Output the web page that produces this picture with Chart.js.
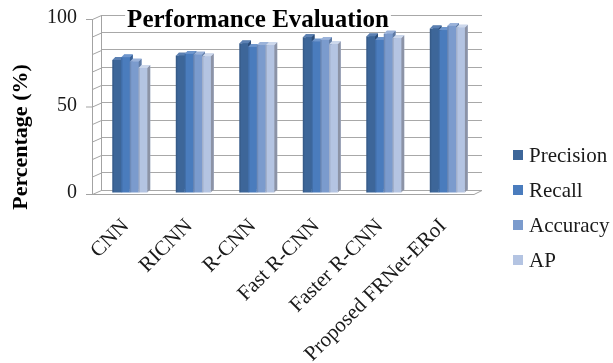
<!DOCTYPE html>
<html>
<head>
<meta charset="utf-8">
<title>Performance Evaluation</title>
<script src="https://cdn.jsdelivr.net/npm/chart.js@4.4.1/dist/chart.umd.min.js"></script>
<style>
  html, body { margin: 0; padding: 0; background: #fff; overflow: hidden; }
  #wrap { position: relative; width: 613px; height: 363px; }
</style>
</head>
<body>
<div id="wrap"><canvas id="chart" width="613" height="363"></canvas></div>
<script>
// Detection methods compared
const categories = ['CNN', 'RICNN', 'R-CNN', 'Fast R-CNN', 'Faster R-CNN', 'Proposed FRNet-ERoI'];

// Scores per method (%)
const precision = [76, 78.5, 85.5, 89, 89.5, 94];
const recall    = [77.5, 79.5, 83.5, 86.5, 87.5, 93];
const accuracy  = [75, 79, 84.5, 87.5, 91, 95.5];
const ap        = [71.5, 78, 84.5, 85, 88.5, 94.5];

const seriesNames = ['Precision', 'Recall', 'Accuracy', 'AP'];
const yTickLabels = [0, 50, 100];
const yGridValues = [0, 10, 20, 30, 40, 50, 60, 70, 80, 90, 100];

const chartTitle = 'Performance Evaluation';
const yAxisTitle = 'Percentage (%)';

// front, top and side shades of each series
const palette = [
  { front: '#3d6699', top: '#5b80b2', side: '#2c4c76' },
  { front: '#4a7cbd', top: '#6e96cd', side: '#395f93' },
  { front: '#7b9bcd', top: '#9bb3da', side: '#5f7aa3' },
  { front: '#b4c4e2', top: '#cdd8ec', side: '#8c93a6' }
];

const SERIF = "'Liberation Serif', 'Times New Roman', serif";
const DEPTH = 3;          // bar depth in px
const WALL_DX = 9;        // left wall / floor depth
const WALL_DY = 4;

// Gives each bar a front face, a top cap and a right side.
// Series are painted left to right so each bar hides the side of its neighbour.
const bars3d = {
  id: 'bars3d',
  afterDatasetsDraw(chart) {
    const ctx = chart.ctx;
    const d = DEPTH;
    ctx.save();
    chart.data.datasets.forEach((ds, i) => {
      const shades = palette[i];
      chart.getDatasetMeta(i).data.forEach(bar => {
        const p = bar.getProps(['x', 'y', 'base', 'width'], true);
        const x1 = p.x - p.width / 2, x2 = p.x + p.width / 2;
        const top = p.y, base = p.base;
        // side
        ctx.fillStyle = shades.side;
        ctx.beginPath();
        ctx.moveTo(x2 - d, top + d);
        ctx.lineTo(x2, top);
        ctx.lineTo(x2, base);
        ctx.lineTo(x2 - d, base + d);
        ctx.closePath();
        ctx.fill();
        // top cap
        ctx.fillStyle = shades.top;
        ctx.beginPath();
        ctx.moveTo(x1 - d, top + d);
        ctx.lineTo(x1, top);
        ctx.lineTo(x2, top);
        ctx.lineTo(x2 - d, top + d);
        ctx.closePath();
        ctx.fill();
        // front
        ctx.fillStyle = shades.front;
        ctx.fillRect(x1 - d, top + d, p.width, base - top);
        // a darker edge down the left of the front face
        ctx.fillStyle = 'rgba(0,0,0,0.10)';
        ctx.fillRect(x1 - d, top + d, 1.5, base - top);
      });
    });
    ctx.restore();
  }
};

// Left wall edge, wall grid connectors and floor
const walls = {
  id: 'walls',
  beforeDatasetsDraw(chart) {
    const ctx = chart.ctx;
    const a = chart.chartArea;
    const ys = chart.scales.y;
    const axisX = a.left - WALL_DX;
    ctx.save();
    ctx.strokeStyle = '#a3a3a3';
    ctx.lineWidth = 1;
    ctx.beginPath();
    // back wall left edge
    ctx.moveTo(a.left + 0.5, a.top);
    ctx.lineTo(a.left + 0.5, a.bottom);
    // left wall front edge (axis line)
    ctx.moveTo(axisX + 0.5, a.top + WALL_DY);
    ctx.lineTo(axisX + 0.5, a.bottom + WALL_DY);
    // left wall grid connectors
    ys.ticks.forEach(t => {
      const y = ys.getPixelForValue(t.value);
      ctx.moveTo(axisX + 0.5, y + WALL_DY + 0.5);
      ctx.lineTo(a.left + 0.5, y + 0.5);
    });
    // floor
    ctx.moveTo(axisX, a.bottom + WALL_DY + 0.5);
    ctx.lineTo(a.right - WALL_DX + 1, a.bottom + WALL_DY + 0.5);
    ctx.lineTo(a.right, a.bottom + 0.5);
    // major tick marks
    yTickLabels.forEach(v => {
      const y = ys.getPixelForValue(v) + WALL_DY + 0.5;
      ctx.moveTo(axisX - 6, y);
      ctx.lineTo(axisX + 0.5, y);
    });
    ctx.stroke();
    ctx.restore();
  }
};

// Chart title, y-axis title and the legend at the right
const captions = {
  id: 'captions',
  afterDraw(chart) {
    const ctx = chart.ctx;
    ctx.save();
    // title on a white band
    ctx.font = 'bold 25px ' + SERIF;
    ctx.textAlign = 'center';
    ctx.textBaseline = 'alphabetic';
    const tw = ctx.measureText(chartTitle).width;
    const tx = 258, ty = 27;
    ctx.fillStyle = '#fff';
    ctx.fillRect(tx - tw / 2 - 2, ty - 18, tw + 4, 21);
    ctx.fillStyle = '#000';
    ctx.fillText(chartTitle, tx, ty);

    // y-axis title
    ctx.save();
    ctx.translate(21, 137);
    ctx.rotate(-Math.PI / 2);
    ctx.font = 'bold 22px ' + SERIF;
    ctx.textAlign = 'center';
    ctx.textBaseline = 'middle';
    ctx.fillText(yAxisTitle, 0, 0);
    ctx.restore();

    // legend
    ctx.font = '21px ' + SERIF;
    ctx.textAlign = 'left';
    ctx.textBaseline = 'middle';
    chart.data.datasets.forEach((ds, i) => {
      const cy = 155 + i * 35;
      ctx.fillStyle = palette[i].front;
      ctx.fillRect(513, cy - 5, 10, 10);
      ctx.fillStyle = '#1a1a1a';
      ctx.fillText(ds.label, 529, cy + 1);
    });
    ctx.restore();
  }
};

const seriesValues = [precision, recall, accuracy, ap];

new Chart(document.getElementById('chart'), {
  type: 'bar',
  data: {
    labels: categories,
    datasets: seriesNames.map((name, i) => ({
      label: name,
      data: seriesValues[i],
      backgroundColor: palette[i].front,
      borderWidth: 0,
      categoryPercentage: 0.55,
      barPercentage: 1.0
    }))
  },
  options: {
    responsive: false,
    animation: false,
    devicePixelRatio: 1,
    layout: { padding: { left: 0, top: 15, right: 131, bottom: 0 } },
    plugins: {
      legend: { display: false },
      title: { display: false },
      tooltip: { enabled: false }
    },
    scales: {
      x: {
        grid: { display: false },
        border: { display: false },
        ticks: {
          color: '#1a1a1a',
          font: { family: SERIF, size: 21 },
          minRotation: 45,
          maxRotation: 45,
          autoSkip: false,
          padding: 16,
          labelOffset: -7
        },
        afterFit: s => { s.height = 173; s.paddingLeft = 0; s.paddingRight = 0; }
      },
      y: {
        min: 0,
        max: 100,
        grid: { color: '#a8a8a8', drawTicks: false },
        border: { display: false },
        ticks: {
          color: '#1a1a1a',
          font: { family: SERIF, size: 20 },
          padding: 24,
          labelOffset: WALL_DY - 1,
          autoSkip: false,
          callback: v => (yTickLabels.includes(v) ? String(v) : '')
        },
        afterBuildTicks: s => { s.ticks = yGridValues.map(v => ({ value: v })); },
        afterFit: s => { s.width = 101; s.paddingTop = 0; s.paddingBottom = 0; }
      }
    }
  },
  plugins: [walls, bars3d, captions]
});
</script>
</body>
</html>
